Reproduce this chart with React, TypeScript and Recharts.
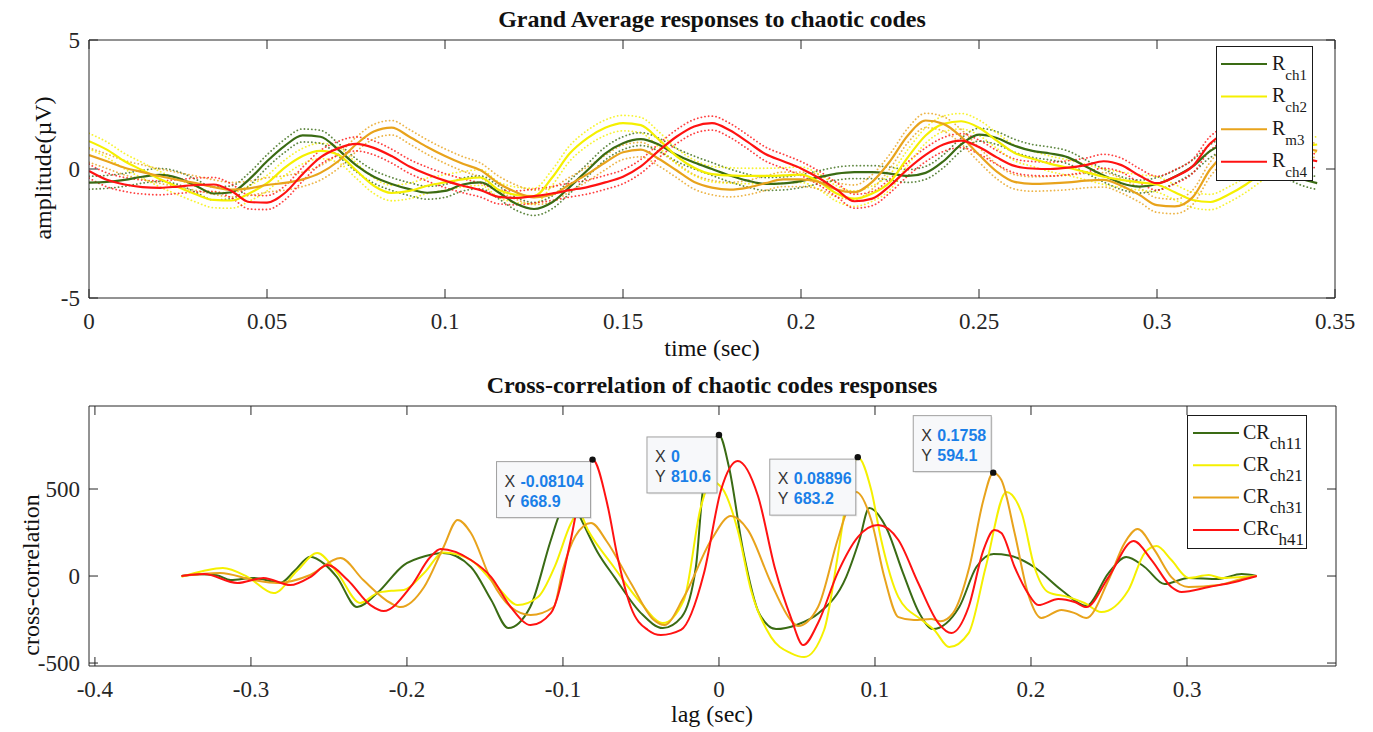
import React from "react";
import {
  LineChart,
  Line,
  XAxis,
  YAxis,
  ReferenceDot,
  ReferenceLine,
  Legend,
} from "recharts";

const SERIF = '"Liberation Serif", "Times New Roman", serif';
const SANS = '"Liberation Sans", Arial, sans-serif';
const INK = "#262626";

const GREEN = "#3a6b14";
const YELLOW = "#f5f000";
const ORANGE = "#e8a31c";
const RED = "#ff1212";

// ---- top panel: grand average responses (µV) ----
const time = [
  0, 0.005, 0.01, 0.015, 0.02, 0.025, 0.03, 0.035, 0.04, 0.045,
  0.05, 0.055, 0.06, 0.065, 0.07, 0.075, 0.08, 0.085, 0.09, 0.095,
  0.1, 0.105, 0.11, 0.115, 0.12, 0.125, 0.13, 0.135, 0.14, 0.145,
  0.15, 0.155, 0.16, 0.165, 0.17, 0.175, 0.18, 0.185, 0.19, 0.195,
  0.2, 0.205, 0.21, 0.215, 0.22, 0.225, 0.23, 0.235, 0.24, 0.245,
  0.25, 0.255, 0.26, 0.265, 0.27, 0.275, 0.28, 0.285, 0.29, 0.295,
  0.3, 0.305, 0.31, 0.315, 0.32, 0.325, 0.33, 0.335, 0.34, 0.345,
];

const rCh1 = [
  -0.53, -0.5, -0.42, -0.3, -0.23, -0.35, -0.65, -0.95, -0.9, -0.4,
  0.3, 0.9, 1.3, 1.25, 0.75, 0.15, -0.3, -0.58, -0.78, -0.92,
  -0.85, -0.6, -0.52, -0.9, -1.35, -1.55, -1.3, -0.7, -0.05, 0.6,
  1.0, 1.16, 0.95, 0.55, 0.25, 0.0, -0.25, -0.45, -0.58, -0.56,
  -0.47, -0.32, -0.18, -0.12, -0.12, -0.18, -0.27, -0.15, 0.3, 0.95,
  1.33, 1.2, 0.9, 0.7, 0.6, 0.45, 0.1, -0.25, -0.55, -0.68,
  -0.58, -0.3, 0.1, 0.7, 1.0, 0.9, 0.5, 0.0, -0.35, -0.55,
];

const rCh2 = [
  1.08, 0.75, 0.3, -0.05, -0.4, -0.7, -0.98, -1.2, -1.22, -0.95,
  -0.55, 0.05, 0.5, 0.7, 0.55, -0.05, -0.65, -0.93, -0.85, -0.65,
  -0.52, -0.4, -0.33, -0.8, -1.0, -1.05, -0.35, 0.6, 1.2, 1.6,
  1.78, 1.7, 1.15, 0.5, 0.05, -0.2, -0.25, -0.27, -0.27, -0.25,
  -0.22, -0.5, -0.95, -1.15, -0.95, -0.5, 0.45, 1.3, 1.75, 1.85,
  1.6, 1.1, 0.62, 0.4, 0.2, 0.05, -0.12, -0.3, -0.42, -0.52,
  -0.6, -0.9, -1.2, -1.28, -1.0, -0.6, -0.1, 0.4, 0.8, 0.95,
];

const rM3 = [
  0.54, 0.3, 0.05, -0.12, -0.28, -0.42, -0.55, -0.7, -0.8, -0.75,
  -0.62, -0.54, -0.4, -0.15, 0.3, 0.95, 1.45, 1.6, 1.25, 0.85,
  0.5, 0.2, -0.05, -0.55, -0.9, -1.1, -1.0, -0.6, -0.2, 0.25,
  0.65, 0.75, 0.4, -0.05, -0.5, -0.72, -0.8, -0.72, -0.55, -0.4,
  -0.4, -0.5, -0.8, -0.9, -0.5, 0.3, 1.3, 1.88, 1.75, 1.25,
  0.55, -0.1, -0.5, -0.58, -0.56, -0.52, -0.45, -0.42, -0.65, -1.0,
  -1.4, -1.45, -1.1, 0.0, 0.7, 1.1, 1.15, 1.0, 0.85, 0.7,
];

const rCh4 = [
  -0.08, -0.42, -0.6, -0.7, -0.73, -0.68, -0.62, -0.6, -0.85, -1.28,
  -1.3, -0.93, -0.2, 0.45, 0.8, 0.97, 0.82, 0.5, 0.1, -0.2,
  -0.45, -0.65, -0.82, -1.08, -1.12, -1.05, -0.95, -0.82, -0.7, -0.52,
  -0.3, 0.1, 0.7, 1.25, 1.65, 1.78, 1.5, 1.05, 0.58, 0.3,
  0.02, -0.35, -0.8, -1.25, -1.15, -0.65, 0.0, 0.55, 0.95, 1.1,
  0.85, 0.45, 0.12, 0.02, 0.0, 0.05, 0.15, 0.3, 0.15, -0.25,
  -0.55, -0.3, 0.1, 1.0, 1.35, 1.25, 1.0, 0.7, 0.45, 0.3,
];

// standard error band half-widths
const semCh1 = 0.25;
const semCh2 = 0.3;
const semM3 = 0.28;
const semCh4 = 0.27;

const timeTicks = [0, 0.05, 0.1, 0.15, 0.2, 0.25, 0.3, 0.35];
const ampTicks = [-5, 0, 5];

const topRows = time.map((t, i) => ({
  t,
  g: rCh1[i], gHi: rCh1[i] + semCh1, gLo: rCh1[i] - semCh1,
  y: rCh2[i], yHi: rCh2[i] + semCh2, yLo: rCh2[i] - semCh2,
  o: rM3[i], oHi: rM3[i] + semM3, oLo: rM3[i] - semM3,
  r: rCh4[i], rHi: rCh4[i] + semCh4, rLo: rCh4[i] - semCh4,
}));

// ---- bottom panel: cross-correlation [lag, value] ----
const crCh11: [number, number][] = [
  [-0.3445, 0], [-0.333, 10], [-0.322, 5], [-0.313, -23], [-0.2985, -11],
  [-0.281, -38], [-0.272, 30], [-0.262, 111], [-0.253, 70], [-0.245, -5],
  [-0.232, -178], [-0.219, -98], [-0.202, 63], [-0.188, 115], [-0.177, 132],
  [-0.159, 52], [-0.146, -138], [-0.135, -299], [-0.121, -178], [-0.108, 200],
  [-0.102, 360], [-0.095, 450], [-0.088, 320], [-0.078, 140], [-0.067, -6],
  [-0.05, -213], [-0.036, -299], [-0.024, -236], [-0.0148, 52], [-0.0103, 494],
  [0, 810.6], [0.0064, 626], [0.0154, 149], [0.0257, -213], [0.0366, -305],
  [0.05, -280], [0.064, -213], [0.0815, -6], [0.09, 207], [0.0963, 391],
  [0.107, 282], [0.118, 17], [0.1284, -213], [0.137, -305], [0.154, -178],
  [0.165, 52], [0.176, 126], [0.186, 118], [0.202, 52], [0.2195, -80],
  [0.2355, -172], [0.2497, 17], [0.261, 109], [0.2728, 52], [0.2856, -46],
  [0.301, -11], [0.32, -17], [0.335, 11], [0.3447, 0],
];

const crCh21: [number, number][] = [
  [-0.3445, -5], [-0.33, 30], [-0.318, 46], [-0.302, -6], [-0.2855, -98],
  [-0.27, 34], [-0.2575, 132], [-0.2445, 17], [-0.23, -155], [-0.219, -98],
  [-0.21, -85], [-0.202, -80], [-0.189, 17], [-0.1765, 135], [-0.159, 92],
  [-0.142, -63], [-0.129, -167], [-0.116, -121], [-0.105, 60], [-0.095, 300],
  [-0.09, 370], [-0.084, 264], [-0.0674, 52], [-0.05, -155], [-0.036, -270],
  [-0.0225, -138], [-0.0116, 397], [-0.005, 545], [0.002, 505], [0.012, 264],
  [0.0205, -80], [0.0334, -351], [0.046, -443], [0.0546, -466], [0.0674, -310],
  [0.076, 109], [0.0828, 494], [0.08896, 683.2], [0.0976, 494], [0.104, 207],
  [0.115, -121], [0.13, -253], [0.138, -310], [0.1476, -408], [0.16, -328],
  [0.171, 52], [0.1842, 483], [0.194, 362], [0.2022, 52], [0.211, -92],
  [0.224, -121], [0.2343, -155], [0.245, -207], [0.2625, -80], [0.2728, 132],
  [0.2805, 172], [0.29, 92], [0.301, -11], [0.314, 6], [0.322, -11],
  [0.335, -6], [0.3447, 0],
];

const crCh31: [number, number][] = [
  [-0.3445, 0], [-0.3197, 17], [-0.2985, -23], [-0.283, -40], [-0.262, 6],
  [-0.2426, 103], [-0.228, -23], [-0.2105, -155], [-0.204, -178], [-0.189, -63],
  [-0.1765, 167], [-0.1675, 322], [-0.159, 247], [-0.146, -23], [-0.1335, -178],
  [-0.1207, -224], [-0.106, -178], [-0.1, 40], [-0.092, 230], [-0.082, 305],
  [-0.072, 200], [-0.0565, -40], [-0.0417, -253], [-0.035, -282], [-0.0225, -121],
  [-0.005, 207], [0.0077, 345], [0.0186, 264], [0.0334, -40], [0.046, -253],
  [0.0507, -287], [0.0635, -178], [0.076, 207], [0.0847, 437], [0.0879, 483],
  [0.0976, 322], [0.106, -6], [0.115, -236], [0.125, -253], [0.136, -247],
  [0.142, -260], [0.15, -213], [0.1605, 52], [0.1695, 437], [0.1758, 594.1],
  [0.181, 552], [0.1895, 247], [0.198, -98], [0.2067, -241], [0.2195, -195],
  [0.228, -213], [0.2355, -241], [0.2497, -23], [0.26, 190], [0.2683, 270],
  [0.2792, 149], [0.29, -6], [0.301, -63], [0.32, -52], [0.335, -17],
  [0.3447, 0],
];

const crCh41: [number, number][] = [
  [-0.3445, 0], [-0.33, 11], [-0.3087, -40], [-0.292, -11], [-0.2747, -52],
  [-0.262, -6], [-0.251, 63], [-0.238, -23], [-0.2234, -167], [-0.215, -201],
  [-0.1977, -63], [-0.185, 109], [-0.1784, 155], [-0.159, 92], [-0.146, -6],
  [-0.1335, -178], [-0.1207, -282], [-0.1078, -213], [-0.095, 207], [-0.088, 520],
  [-0.08104, 668.9], [-0.0712, 397], [-0.065, 109], [-0.0565, -178], [-0.0456, -310],
  [-0.0372, -339], [-0.0244, -310], [-0.0096, 17], [0.0013, 494], [0.012, 661],
  [0.025, 460], [0.036, 40], [0.046, -236], [0.054, -397], [0.0635, -270],
  [0.076, 17], [0.089, 224], [0.102, 293], [0.115, 207], [0.1277, -40],
  [0.1406, -270], [0.149, -328], [0.16, -178], [0.1695, 149], [0.1765, 264],
  [0.181, 247], [0.1895, 52], [0.198, -98], [0.2047, -167], [0.2175, -132],
  [0.228, -149], [0.2355, -178], [0.2497, -6], [0.2657, 201], [0.2773, 92],
  [0.29, -63], [0.2965, -92], [0.314, -63], [0.3306, -34], [0.3447, 0],
];

const lagTicks = [-0.4, -0.3, -0.2, -0.1, 0, 0.1, 0.2, 0.3];
const ccTicks = [-500, 0, 500];

// data tips
const tipLag = [-0.08104, 0, 0.08896, 0.1758];
const tipValue = [668.9, 810.6, 683.2, 594.1];
const tipAbove = [false, false, false, true];

const topLegend = [
  { label: "R", sub: "ch1", color: GREEN },
  { label: "R", sub: "ch2", color: YELLOW },
  { label: "R", sub: "m3", color: ORANGE },
  { label: "R", sub: "ch4", color: RED },
];

const bottomLegend = [
  { label: "CR", sub: "ch11", color: GREEN },
  { label: "CR", sub: "ch21", color: YELLOW },
  { label: "CR", sub: "ch31", color: ORANGE },
  { label: "CRc", sub: "h41", color: RED },
];

const toPoints = (pts: [number, number][]) => pts.map(([lag, v]) => ({ lag, v }));

const tickText = { fontFamily: SERIF, fontSize: 23, fill: INK };

function makeXTick(plotH: number) {
  return (p: any) => {
    const { x, y, payload } = p;
    return (
      <g>
        <line x1={x} x2={x} y1={y} y2={y - 9} stroke={INK} />
        <line x1={x} x2={x} y1={y - plotH} y2={y - plotH + 9} stroke={INK} />
        <text x={x} y={y + 31} textAnchor="middle" style={tickText}>
          {payload.value}
        </text>
      </g>
    );
  };
}

function makeYTick(plotW: number) {
  return (p: any) => {
    const { x, y, payload } = p;
    return (
      <g>
        <line x1={x} x2={x + 9} y1={y} y2={y} stroke={INK} />
        <line x1={x + plotW} x2={x + plotW - 9} y1={y} y2={y} stroke={INK} />
        <text x={x - 9} y={y + 8} textAnchor="end" style={tickText}>
          {payload.value}
        </text>
      </g>
    );
  };
}

function LegendBox({ items, w, h, rowTop, rowGap, lineX0, lineX1, textX, subSize }: any) {
  return (
    <svg width={w} height={h} style={{ display: "block" }}>
      <rect x={0.5} y={0.5} width={w - 1} height={h - 1} fill="#fff" stroke="#1a1a1a" />
      {items.map((it: any, i: number) => {
        const cy = rowTop + i * rowGap;
        return (
          <g key={it.sub}>
            <line x1={lineX0} x2={lineX1} y1={cy} y2={cy} stroke={it.color} strokeWidth={2} />
            <text x={textX} y={cy + 5.5} style={{ fontFamily: SERIF, fontSize: 20, fill: "#1a1a1a" }}>
              {it.label}
              <tspan style={{ fontSize: subSize }} dy={10}>{it.sub}</tspan>
            </text>
          </g>
        );
      })}
    </svg>
  );
}

function tipShape(i: number) {
  return (p: any) => {
    const { cx, cy } = p;
    const xs = String(tipLag[i]);
    const ys = String(tipValue[i]);
    const w = 30 + 8 * Math.max(xs.length, ys.length);
    const h = 56;
    const bx = cx - 2 - w;
    const by = tipAbove[i] ? cy - 1 - h : cy + 2;
    const label = { fontFamily: SANS, fontSize: 16, fill: "#333" };
    const value = { fontFamily: SANS, fontSize: 16, fontWeight: 700, fill: "#1a7fe8" };
    return (
      <g>
        <rect x={bx + 1.5} y={by + 1.5} width={w} height={h} fill="#000" opacity={0.07} />
        <rect x={bx} y={by} width={w} height={h} fill="#f7f8fa" stroke="#a0a0a0" />
        <text x={bx + 8} y={by + 25} style={label}>X</text>
        <text x={bx + 24} y={by + 25} style={value}>{xs}</text>
        <text x={bx + 8} y={by + 45} style={label}>Y</text>
        <text x={bx + 24} y={by + 45} style={value}>{ys}</text>
        <circle cx={cx} cy={cy} r={3.2} fill="#111" />
      </g>
    );
  };
}

const dotted = { strokeWidth: 1.8, strokeDasharray: "0.1 3.6", strokeLinecap: "round" as const, strokeOpacity: 0.8 };

function TopChart() {
  const bands = [
    { hi: "gHi", lo: "gLo", c: GREEN },
    { hi: "yHi", lo: "yLo", c: YELLOW },
    { hi: "oHi", lo: "oLo", c: ORANGE },
    { hi: "rHi", lo: "rLo", c: RED },
  ];
  return (
    <LineChart width={1373} height={366} data={topRows} margin={{ top: 40, right: 38, bottom: 38, left: 29 }}>
      <XAxis
        dataKey="t"
        type="number"
        domain={[0, 0.35]}
        ticks={timeTicks}
        interval={0}
        allowDataOverflow
        height={30}
        tickSize={0}
        tickMargin={0}
        tickLine={false}
        axisLine={{ stroke: INK }}
        tick={makeXTick(258)}
      />
      <YAxis
        type="number"
        domain={[-5, 5]}
        ticks={ampTicks}
        interval={0}
        allowDataOverflow
        width={60}
        tickSize={0}
        tickMargin={0}
        tickLine={false}
        axisLine={{ stroke: INK }}
        tick={makeYTick(1246)}
      />
      <ReferenceLine y={5} stroke={INK} />
      <ReferenceLine x={0.35} stroke={INK} />
      {bands.map((b) => (
        <Line key={b.hi} type="monotone" dataKey={b.hi} stroke={b.c} {...dotted} dot={false} activeDot={false} isAnimationActive={false} legendType="none" />
      ))}
      {bands.map((b) => (
        <Line key={b.lo} type="monotone" dataKey={b.lo} stroke={b.c} {...dotted} dot={false} activeDot={false} isAnimationActive={false} legendType="none" />
      ))}
      <Line type="monotone" dataKey="g" stroke={GREEN} strokeWidth={2.2} dot={false} activeDot={false} isAnimationActive={false} />
      <Line type="monotone" dataKey="y" stroke={YELLOW} strokeWidth={2.2} dot={false} activeDot={false} isAnimationActive={false} />
      <Line type="monotone" dataKey="o" stroke={ORANGE} strokeWidth={2.2} dot={false} activeDot={false} isAnimationActive={false} />
      <Line type="monotone" dataKey="r" stroke={RED} strokeWidth={2.2} dot={false} activeDot={false} isAnimationActive={false} />
      <Legend
        layout="horizontal"
        verticalAlign="middle"
        align="center"
        wrapperStyle={{ left: 1216, top: 46, width: 97, height: 135 }}
        content={() => (
          <LegendBox items={topLegend} w={97} h={135} rowTop={18} rowGap={32.6} lineX0={5} lineX1={51} textX={56} subSize={15} />
        )}
      />
    </LineChart>
  );
}

function BottomChart() {
  const series = [
    { pts: crCh11, c: GREEN, name: "ch11" },
    { pts: crCh21, c: YELLOW, name: "ch21" },
    { pts: crCh31, c: ORANGE, name: "ch31" },
    { pts: crCh41, c: RED, name: "h41" },
  ];
  return (
    <LineChart width={1373} height={362} margin={{ top: 36, right: 37, bottom: 36, left: 29 }}>
      <XAxis
        dataKey="lag"
        type="number"
        domain={[-0.4038, 0.3955]}
        ticks={lagTicks}
        interval={0}
        allowDataOverflow
        height={30}
        tickSize={0}
        tickMargin={0}
        tickLine={false}
        axisLine={{ stroke: INK }}
        tick={makeXTick(260)}
      />
      <YAxis
        type="number"
        domain={[-517, 977]}
        ticks={ccTicks}
        interval={0}
        allowDataOverflow
        width={60}
        tickSize={0}
        tickMargin={0}
        tickLine={false}
        axisLine={{ stroke: INK }}
        tick={makeYTick(1247)}
      />
      <ReferenceLine y={977} stroke={INK} />
      <ReferenceLine x={0.3955} stroke={INK} />
      {series.map((s) => (
        <Line
          key={s.name}
          data={toPoints(s.pts)}
          type="monotone"
          dataKey="v"
          stroke={s.c}
          strokeWidth={2}
          dot={false}
          activeDot={false}
          isAnimationActive={false}
        />
      ))}
      {tipLag.map((lag, i) => (
        <ReferenceDot key={lag} x={lag} y={tipValue[i]} r={3} shape={tipShape(i)} />
      ))}
      <Legend
        layout="horizontal"
        verticalAlign="middle"
        align="center"
        wrapperStyle={{ left: 1187, top: 45, width: 120, height: 134 }}
        content={() => (
          <LegendBox items={bottomLegend} w={120} h={134} rowTop={18} rowGap={32.3} lineX0={6} lineX1={52} textX={56} subSize={17} />
        )}
      />
    </LineChart>
  );
}

export default function App() {
  return (
    <div style={{ position: "relative", width: 1373, height: 732, background: "#fff", overflow: "hidden" }}>
      <style>{`body{margin:0}`}</style>
      <svg width={1373} height={732} style={{ position: "absolute", left: 0, top: 0 }}>
        <g style={{ fontFamily: SERIF }} fill="#111">
          <text x={712} y={27} textAnchor="middle" fontSize={24} fontWeight="bold">
            Grand Average responses to chaotic codes
          </text>
          <text x={712} y={356} textAnchor="middle" fontSize={24}>time (sec)</text>
          <text transform="translate(51,168) rotate(-90)" textAnchor="middle" fontSize={24}>
            amplitude(µV)
          </text>
          <text x={712} y={393} textAnchor="middle" fontSize={24} fontWeight="bold">
            Cross-correlation of chaotic codes responses
          </text>
          <text x={712} y={722} textAnchor="middle" fontSize={24}>lag (sec)</text>
          <text transform="translate(39,575) rotate(-90)" textAnchor="middle" fontSize={24}>
            cross-correlation
          </text>
        </g>
      </svg>
      <div style={{ position: "absolute", left: 0, top: 0 }}>
        <TopChart />
      </div>
      <div style={{ position: "absolute", left: 0, top: 370 }}>
        <BottomChart />
      </div>
    </div>
  );
}
